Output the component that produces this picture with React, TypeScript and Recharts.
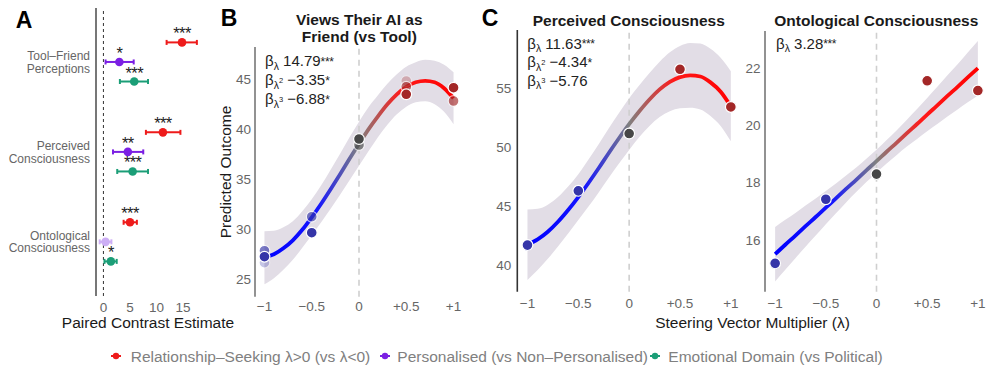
import React from "react";
import { ComposedChart, Scatter, ErrorBar, XAxis, YAxis, ReferenceLine, Area, Line } from "recharts";

const FONT = '"Liberation Sans", Arial, Helvetica, sans-serif';

// ---------------- Panel A data ----------------
const outcomeLabels = ["Tool–Friend\nPerceptions", "Perceived\nConsciousness", "Ontological\nConsciousness"];
const contrastNames = [
  "Relationship–Seeking λ>0 (vs λ<0)",
  "Personalised (vs Non–Personalised)",
  "Emotional Domain (vs Political)",
];
const relEst = [14.8, 11.2, 5.0];
const relLo = [11.9, 8.0, 3.8];
const relHi = [17.6, 14.5, 6.3];
const relSig = ["***", "***", "***"];
const persEst = [3.0, 4.6, 0.4];
const persLo = [0.4, 1.8, -0.7];
const persHi = [5.7, 7.5, 1.5];
const persSig = ["*", "**", ""];
const emoEst = [5.8, 5.5, 1.4];
const emoLo = [3.1, 2.6, 0.2];
const emoHi = [8.4, 8.4, 2.5];
const emoSig = ["***", "***", "*"];
const contrastTicks = [0, 5, 10, 15];

// ---------------- Panels B / C data ----------------
const lambdaGrid = [-1, -0.9, -0.8, -0.7, -0.6, -0.5, -0.4, -0.3, -0.2, -0.1, 0, 0.1, 0.2, 0.3, 0.4, 0.5, 0.6, 0.7, 0.8, 0.9, 1];
const lambdaTicks = [-1, -0.5, 0, 0.5, 1];

const bFit = [27.2, 27.5, 28.1, 28.9, 29.95, 31.2, 32.55, 34.0, 35.5, 37.05, 38.55, 40.0, 41.3, 42.5, 43.5, 44.25, 44.7, 44.85, 44.7, 44.1, 43.1];
const bLo = [24.5, 25.1, 25.95, 26.95, 28.15, 29.4, 30.7, 32.05, 33.45, 34.9, 36.35, 37.8, 39.2, 40.45, 41.5, 42.25, 42.7, 42.8, 42.5, 41.75, 40.5];
const bHi = [29.8, 29.85, 30.2, 30.8, 31.8, 33.0, 34.4, 35.95, 37.55, 39.2, 40.75, 42.2, 43.4, 44.55, 45.5, 46.25, 46.7, 46.95, 46.85, 46.45, 45.7];
const bObsLambda = [-1, -0.5, 0, 0.5, 1];
const bObsMain = [27.26, 29.66, 39.03, 43.5, 44.16];
const bObsSecond = [27.86, 31.26, 38.43, 44.26, 42.83];
const bObsThirdLambda = [-1, 0.5];
const bObsThird = [26.66, 44.83];
const bCoefEst = [14.79, -3.35, -6.88];
const bCoefSig = ["***", "*", "*"];
const bTicks = [25, 30, 35, 40, 45];

const c1Fit = [41.7, 42.15, 42.8, 43.65, 44.65, 45.75, 46.95, 48.2, 49.5, 50.75, 51.95, 53.05, 54.05, 54.9, 55.55, 55.95, 56.1, 56.0, 55.5, 54.7, 53.45];
const c1Lo = [38.7, 39.55, 40.5, 41.55, 42.65, 43.8, 44.95, 46.15, 47.4, 48.6, 49.75, 50.85, 51.8, 52.55, 53.05, 53.3, 53.35, 53.2, 52.65, 51.8, 50.5];
const c1Hi = [44.7, 44.75, 45.1, 45.75, 46.65, 47.7, 48.95, 50.25, 51.6, 52.9, 54.15, 55.25, 56.3, 57.25, 58.05, 58.6, 58.85, 58.8, 58.35, 57.6, 56.45];
const c1Obs = [41.67, 46.28, 51.15, 56.61, 53.41];
const c1CoefEst = [11.63, -4.34, -5.76];
const c1CoefSig = ["***", "*", ""];
const c1Ticks = [40, 45, 50, 55];

const c2Fit = [15.5, 15.83, 16.15, 16.48, 16.8, 17.13, 17.45, 17.78, 18.1, 18.43, 18.75, 19.08, 19.4, 19.73, 20.05, 20.38, 20.7, 21.03, 21.35, 21.68, 22.0];
const c2Lo = [14.55, 14.96, 15.36, 15.76, 16.15, 16.55, 16.93, 17.31, 17.67, 18.02, 18.35, 18.67, 18.97, 19.26, 19.53, 19.8, 20.05, 20.31, 20.56, 20.81, 21.05];
const c2Hi = [16.45, 16.7, 16.94, 17.2, 17.45, 17.71, 17.97, 18.25, 18.53, 18.84, 19.15, 19.49, 19.83, 20.2, 20.57, 20.96, 21.35, 21.75, 22.14, 22.55, 22.95];
const c2Obs = [15.18, 17.42, 18.3, 21.56, 21.22];
const c2CoefEst = [3.28];
const c2CoefSig = ["***"];
const c2Ticks = [16, 18, 20, 22];

// ---------------- styles ----------------
const contrastColors = ["#ee1b1b", "#7b1fe3", "#1b9e77"];
const contrastFaded = ["#f7a0a0", "#cdaef5", "#a0d8c6"];
const A_GROUP_GAP = 4.6;
const TICK_FILL = "#666";
const BAND_FILL = "#e2dde6";

const fmtLambda = (v: number) => (v === 0 ? "0" : v > 0 ? `+${v}` : `−${Math.abs(v)}`);
const fmtNum = (v: number) => (v < 0 ? `−${Math.abs(v).toFixed(2)}` : v.toFixed(2));
const pointColor = (lam: number) => (lam < 0 ? "#3535a8" : lam === 0 ? "#474747" : "#a32727");

function buildContrastRows(est: number[], lo: number[], hi: number[], sig: string[], s: number) {
  return est.map((e, g) => ({ x: e, y: g * A_GROUP_GAP + s, err: [e - lo[g], hi[g] - e], sig: sig[g] }));
}

const contrastSeries = [
  buildContrastRows(relEst, relLo, relHi, relSig, 0),
  buildContrastRows(persEst, persLo, persHi, persSig, 1),
  buildContrastRows(emoEst, emoLo, emoHi, emoSig, 2),
];

const OutcomeTick = (props: any) => {
  const { x, y, payload } = props;
  const idx = Math.round((payload.value - 1) / A_GROUP_GAP);
  const lines = (outcomeLabels[idx] || "").split("\n");
  return (
    <text x={x} y={y} textAnchor="end" fontSize={12} fill={TICK_FILL} fontFamily={FONT}>
      {lines.map((l, k) => (
        <tspan key={k} x={x} dy={k === 0 ? -2.1 : 12.7}>
          {l}
        </tspan>
      ))}
    </text>
  );
};

function PanelA() {
  const yTicks = outcomeLabels.map((_, g) => g * A_GROUP_GAP + 1);
  return (
    <div style={{ position: "absolute", left: 0, top: 0 }}>
      <ComposedChart width={205} height={330} margin={{ top: 8, right: 6, bottom: 9, left: 0 }}>
        <XAxis
          type="number"
          dataKey="x"
          domain={[-1.4, 18]}
          ticks={contrastTicks}
          allowDataOverflow
          axisLine={false}
          tickLine={{ stroke: "none" }}
          tickSize={4}
          tickMargin={2}
          height={25}
          interval={0}
          tick={{ fill: TICK_FILL, fontSize: 13.5, fontFamily: FONT }}
        />
        <YAxis
          type="number"
          dataKey="y"
          domain={[-1.76, 12.97]}
          reversed
          allowDataOverflow
          ticks={yTicks}
          interval={0}
          width={96}
          axisLine={{ stroke: "#777", strokeWidth: 2 }}
          tickLine={false}
          tickSize={0}
          tickMargin={6}
          tick={<OutcomeTick />}
        />
        <ReferenceLine x={0} stroke="#333" strokeDasharray="3 3" strokeWidth={1} />
        {contrastSeries.map((rows, i) => {
          const sigRows = rows.filter((r) => r.sig !== "");
          const nsRows = rows.filter((r) => r.sig === "");
          const mk = (color: string) => (p: any) => (
            <g>
              <circle cx={p.cx} cy={p.cy} r={4.3} fill={color} />
              {p.payload.sig ? (
                <text x={p.cx} y={p.cy - 3} textAnchor="middle" fontSize={16.5} letterSpacing={-0.6} fill="#222" fontFamily={FONT}>
                  {p.payload.sig}
                </text>
              ) : null}
            </g>
          );
          return (
            <React.Fragment key={i}>
              <Scatter data={sigRows} dataKey="y" fill={contrastColors[i]} isAnimationActive={false} shape={mk(contrastColors[i])}>
                <ErrorBar dataKey="err" direction="x" width={2.5} stroke={contrastColors[i]} strokeWidth={2} />
              </Scatter>
              {nsRows.length > 0 && (
                <Scatter data={nsRows} dataKey="y" fill={contrastFaded[i]} isAnimationActive={false} shape={mk(contrastFaded[i])}>
                  <ErrorBar dataKey="err" direction="x" width={2.5} stroke={contrastFaded[i]} strokeWidth={2} />
                </Scatter>
              )}
            </React.Fragment>
          );
        })}
      </ComposedChart>
    </div>
  );
}

type ObsSeries = { lam: number[]; val: number[]; opacity: number };

function CurvePanel(props: {
  gid: string;
  left: number;
  width: number;
  yAxisWidth: number;
  top: number;
  right: number;
  bottom: number;
  xTickOffset: number;
  yTickGap: number;
  yDomain: [number, number];
  yTicks: number[];
  fit: number[];
  lo: number[];
  hi: number[];
  obs: ObsSeries[];
  axisColor: string;
}) {
  const rows = lambdaGrid.map((l, i) => ({ lam: l, fit: props.fit[i], band: [props.lo[i], props.hi[i]] }));
  return (
    <div style={{ position: "absolute", left: props.left, top: 0 }}>
      <ComposedChart
        width={props.width}
        height={330}
        data={rows}
        margin={{ top: props.top, right: props.right, bottom: props.bottom, left: 0 }}
      >
        <defs>
          <linearGradient id={props.gid} x1="0" y1="0" x2="1" y2="0">
            <stop offset="0" stopColor="#0000ff" />
            <stop offset="0.28" stopColor="#1414ff" />
            <stop offset="0.5" stopColor="#808080" />
            <stop offset="0.72" stopColor="#ff1a1a" />
            <stop offset="1" stopColor="#ff0000" />
          </linearGradient>
        </defs>
        <XAxis
          type="number"
          dataKey="lam"
          domain={[-1.1, 1.1]}
          ticks={lambdaTicks}
          interval={0}
          allowDataOverflow
          tickFormatter={fmtLambda}
          axisLine={false}
          tickLine={{ stroke: "none" }}
          tickSize={props.xTickOffset}
          tickMargin={0}
          height={25}
          tick={{ fill: TICK_FILL, fontSize: 13.5, fontFamily: FONT }}
        />
        <YAxis
          type="number"
          domain={props.yDomain}
          ticks={props.yTicks}
          interval={0}
          allowDataOverflow
          width={props.yAxisWidth}
          axisLine={{ stroke: props.axisColor, strokeWidth: 1.6 }}
          tickLine={{ stroke: "none" }}
          tickSize={props.yTickGap}
          tickMargin={0}
          tick={{ fill: TICK_FILL, fontSize: 13.5, fontFamily: FONT }}
        />
        <ReferenceLine x={0} stroke="#cfcfcf" strokeDasharray="6 5" strokeWidth={1.6} />
        <Area dataKey="band" type="monotone" fill={BAND_FILL} fillOpacity={1} stroke="none" isAnimationActive={false} />
        <Line dataKey="fit" type="monotone" stroke={`url(#${props.gid})`} strokeWidth={3.8} dot={false} isAnimationActive={false} />
        {props.obs.map((s, k) => (
          <Scatter
            key={k}
            data={s.lam.map((l, i) => ({ lam: l, val: s.val[i] }))}
            dataKey="val"
            isAnimationActive={false}
            shape={(p: any) => (
              <circle
                cx={p.cx}
                cy={p.cy}
                r={5.4}
                fill={pointColor(p.payload.lam)}
                stroke="#fff"
                strokeWidth={1.2}
                opacity={s.opacity}
              />
            )}
          />
        ))}
      </ComposedChart>
    </div>
  );
}

function Coef(props: { x: number; y: number; power: number; est: number; sig: string }) {
  const { x, y, power, est, sig } = props;
  return (
    <text x={x} y={y} fontSize={15} fill="#222" fontFamily={FONT}>
      <tspan>β</tspan>
      <tspan fontSize={10.5} dy={3.5}>λ</tspan>
      {power > 1 ? (
        <tspan fontSize={7.5} dy={-6}>
          {String(power)}
        </tspan>
      ) : null}
      <tspan fontSize={15} dy={power > 1 ? 2.5 : -3.5}>
        {" " + fmtNum(est)}
      </tspan>
      {sig ? (
        <tspan fontSize={12} dy={-0.5} letterSpacing={-0.4}>
          {sig}
        </tspan>
      ) : null}
    </text>
  );
}

function Overlay() {
  const legendGlyphX = [116, 385, 655];
  const legendTextX = [130.7, 397.3, 668.3];
  return (
    <svg width={997} height={374} style={{ position: "absolute", left: 0, top: 0, pointerEvents: "none" }}>
      <g fontFamily={FONT}>
        <text x={24} y={28.4} textAnchor="middle" fontSize={23} fontWeight="bold" fill="#000">A</text>
        <text x={229} y={26.3} textAnchor="middle" fontSize={23} fontWeight="bold" fill="#000">B</text>
        <text x={490} y={26.3} textAnchor="middle" fontSize={23} fontWeight="bold" fill="#000">C</text>

        <text x={359.3} y={24.5} textAnchor="middle" fontSize={15.5} fontWeight="bold" fill="#1a1a1a">Views Their AI as</text>
        <text x={359.3} y={42.2} textAnchor="middle" fontSize={15.5} fontWeight="bold" fill="#1a1a1a">Friend (vs Tool)</text>
        <text x={628.8} y={25.5} textAnchor="middle" fontSize={15.5} fontWeight="bold" fill="#1a1a1a">Perceived Consciousness</text>
        <text x={876.3} y={25.5} textAnchor="middle" fontSize={15.5} fontWeight="bold" fill="#1a1a1a">Ontological Consciousness</text>

        <text x={148} y={327.5} textAnchor="middle" fontSize={15.5} fill="#1a1a1a">Paired Contrast Estimate</text>
        <text x={752.5} y={327.5} textAnchor="middle" fontSize={15.5} fill="#1a1a1a">Steering Vector Multiplier (λ)</text>
        <text transform="translate(230.5,172) rotate(-90)" textAnchor="middle" fontSize={15.5} fill="#1a1a1a">Predicted Outcome</text>

        {bCoefEst.map((e, i) => (
          <Coef key={"b" + i} x={265} y={66.4 + i * 19} power={i + 1} est={e} sig={bCoefSig[i]} />
        ))}
        {c1CoefEst.map((e, i) => (
          <Coef key={"c1" + i} x={527.3} y={48.7 + i * 18.4} power={i + 1} est={e} sig={c1CoefSig[i]} />
        ))}
        {c2CoefEst.map((e, i) => (
          <Coef key={"c2" + i} x={776} y={48.7 + i * 18.4} power={i + 1} est={e} sig={c2CoefSig[i]} />
        ))}

        {contrastNames.map((name, i) => (
          <g key={"lg" + i}>
            <line x1={legendGlyphX[i] - 5} x2={legendGlyphX[i] + 5} y1={356} y2={356} stroke={contrastColors[i]} strokeWidth={2} />
            <circle cx={legendGlyphX[i]} cy={356} r={3.2} fill={contrastColors[i]} />
            <text x={legendTextX[i]} y={361.5} fontSize={15.5} fill="#808080">{name}</text>
          </g>
        ))}
      </g>
    </svg>
  );
}

export default function App() {
  return (
    <div style={{ position: "absolute", left: 0, top: 0, width: 997, height: 374, background: "#fff", overflow: "hidden" }}>
      <PanelA />
      <CurvePanel
        gid="gradB"
        left={200}
        width={270}
        yAxisWidth={55}
        top={47}
        right={7}
        bottom={8.3}
        xTickOffset={5}
        yTickGap={4}
        yDomain={[23.26, 48.23]}
        yTicks={bTicks}
        fit={bFit}
        lo={bLo}
        hi={bHi}
        axisColor="#777"
        obs={[
          { lam: bObsThirdLambda, val: bObsThird, opacity: 0.28 },
          { lam: bObsLambda, val: bObsSecond, opacity: 0.65 },
          { lam: bObsLambda, val: bObsMain, opacity: 1 },
        ]}
      />
      <CurvePanel
        gid="gradC1"
        left={470}
        width={275}
        yAxisWidth={47.3}
        top={30}
        right={4}
        bottom={13.3}
        xTickOffset={6.5}
        yTickGap={6}
        yDomain={[37.71, 59.95]}
        yTicks={c1Ticks}
        fit={c1Fit}
        lo={c1Lo}
        hi={c1Hi}
        axisColor="#333"
        obs={[{ lam: bObsLambda, val: c1Obs, opacity: 1 }]}
      />
      <CurvePanel
        gid="gradC2"
        left={735}
        width={262}
        yAxisWidth={30}
        top={31}
        right={9}
        bottom={13.3}
        xTickOffset={6.5}
        yTickGap={4.5}
        yDomain={[14.19, 23.3]}
        yTicks={c2Ticks}
        fit={c2Fit}
        lo={c2Lo}
        hi={c2Hi}
        axisColor="#777"
        obs={[{ lam: bObsLambda, val: c2Obs, opacity: 1 }]}
      />
      <Overlay />
    </div>
  );
}
